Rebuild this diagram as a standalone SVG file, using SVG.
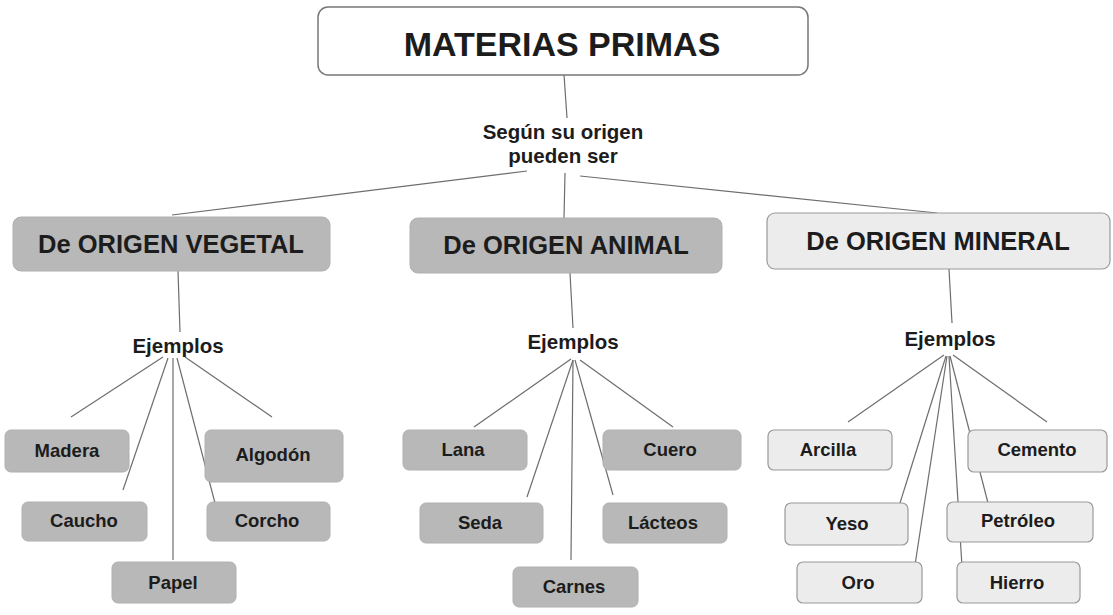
<svg xmlns="http://www.w3.org/2000/svg" width="1113" height="615" viewBox="0 0 1113 615">
<style>
text{font-family:"Liberation Sans",Arial,sans-serif;font-weight:bold;fill:#1c1c1c;text-anchor:middle}
.top{fill:#fff;stroke:#777;stroke-width:1.5}
.dark{fill:#b8b8b8;stroke:#b0b0b0;stroke-width:1}
.light{fill:#ececec;stroke:#9a9a9a;stroke-width:1.2}
.t1{font-size:34px}
.t2{font-size:25.5px}
.t3{font-size:18.5px}
.t4{font-size:20.5px}
#connectors line{stroke:#6e6e6e;stroke-width:1.2;fill:none}
</style>
<rect width="1113" height="615" fill="#fff"/>
<g id="connectors">
<line x1="563" y1="60" x2="567" y2="118"/>
<line x1="527" y1="171" x2="172" y2="215"/>
<line x1="565" y1="173" x2="564" y2="218"/>
<line x1="580" y1="176" x2="937" y2="213"/>
<line x1="178" y1="271" x2="180" y2="332"/>
<line x1="570" y1="273" x2="573" y2="328"/>
<line x1="949" y1="269" x2="952" y2="323"/>
<line x1="163" y1="357" x2="71" y2="417"/>
<line x1="168" y1="358" x2="123" y2="490"/>
<line x1="173" y1="358" x2="173" y2="560"/>
<line x1="177" y1="358" x2="215" y2="503"/>
<line x1="185" y1="357" x2="272" y2="417"/>
<line x1="571" y1="359" x2="474" y2="427"/>
<line x1="573" y1="360" x2="527" y2="497"/>
<line x1="573" y1="360" x2="571" y2="560"/>
<line x1="575" y1="360" x2="613" y2="495"/>
<line x1="580" y1="360" x2="673" y2="427"/>
<line x1="944" y1="355" x2="848" y2="422"/>
<line x1="946" y1="356" x2="900" y2="503"/>
<line x1="947" y1="356" x2="915" y2="565"/>
<line x1="949" y1="356" x2="963" y2="583"/>
<line x1="950" y1="356" x2="988" y2="503"/>
<line x1="953" y1="355" x2="1047" y2="422"/>
</g>
<g id="n-materias"><rect class="top" x="318" y="7" width="490" height="68" rx="10"/><text class="t1" x="562" y="56">MATERIAS PRIMAS</text></g>
<g id="n-segun"><text class="t4" x="563" y="139">Según su origen</text><text class="t4" x="563" y="163">pueden ser</text></g>
<g id="n-vegetal"><rect class="dark" x="13" y="217" width="317" height="54" rx="8"/><text class="t2" x="171" y="253">De ORIGEN VEGETAL</text></g>
<g id="n-animal"><rect class="dark" x="410" y="218" width="312" height="55" rx="8"/><text class="t2" x="566" y="254">De ORIGEN ANIMAL</text></g>
<g id="n-mineral"><rect class="light" x="767" y="213" width="343" height="56" rx="8"/><text class="t2" x="938" y="250">De ORIGEN MINERAL</text></g>
<g id="n-ej1"><text class="t4" x="178" y="353">Ejemplos</text></g>
<g id="n-ej2"><text class="t4" x="573" y="349">Ejemplos</text></g>
<g id="n-ej3"><text class="t4" x="950" y="346">Ejemplos</text></g>
<g id="n-madera"><rect class="dark" x="5" y="430" width="124" height="42" rx="6"/><text class="t3" x="67" y="457">Madera</text></g>
<g id="n-algodon"><rect class="dark" x="205" y="430" width="138" height="52" rx="6"/><text class="t3" x="273" y="461">Algodón</text></g>
<g id="n-caucho"><rect class="dark" x="22" y="502" width="125" height="39" rx="6"/><text class="t3" x="84" y="527">Caucho</text></g>
<g id="n-corcho"><rect class="dark" x="207" y="502" width="123" height="39" rx="6"/><text class="t3" x="267" y="527">Corcho</text></g>
<g id="n-papel"><rect class="dark" x="112" y="562" width="124" height="41" rx="6"/><text class="t3" x="173" y="589">Papel</text></g>
<g id="n-lana"><rect class="dark" x="403" y="430" width="124" height="40" rx="6"/><text class="t3" x="463" y="456">Lana</text></g>
<g id="n-cuero"><rect class="dark" x="603" y="430" width="138" height="40" rx="6"/><text class="t3" x="670" y="456">Cuero</text></g>
<g id="n-seda"><rect class="dark" x="420" y="503" width="123" height="40" rx="6"/><text class="t3" x="480" y="529">Seda</text></g>
<g id="n-lacteos"><rect class="dark" x="603" y="503" width="124" height="40" rx="6"/><text class="t3" x="663" y="529">Lácteos</text></g>
<g id="n-carnes"><rect class="dark" x="513" y="567" width="125" height="40" rx="6"/><text class="t3" x="574" y="593">Carnes</text></g>
<g id="n-arcilla"><rect class="light" x="768" y="430" width="124" height="40" rx="6"/><text class="t3" x="828" y="456">Arcilla</text></g>
<g id="n-cemento"><rect class="light" x="968" y="430" width="139" height="42" rx="6"/><text class="t3" x="1037" y="456">Cemento</text></g>
<g id="n-yeso"><rect class="light" x="785" y="503" width="123" height="42" rx="6"/><text class="t3" x="847" y="530">Yeso</text></g>
<g id="n-petroleo"><rect class="light" x="947" y="502" width="146" height="40" rx="6"/><text class="t3" x="1018" y="527">Petróleo</text></g>
<g id="n-oro"><rect class="light" x="797" y="562" width="125" height="41" rx="6"/><text class="t3" x="858" y="589">Oro</text></g>
<g id="n-hierro"><rect class="light" x="957" y="562" width="123" height="41" rx="6"/><text class="t3" x="1017" y="589">Hierro</text></g>
</svg>
